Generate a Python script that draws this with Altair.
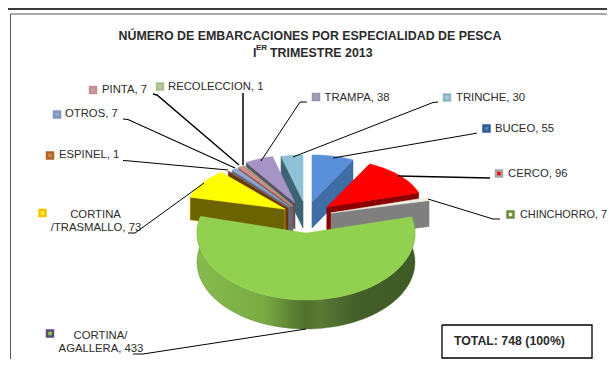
import math
import altair as alt

# ---- data ----
categories = ["BUCEO", "CERCO", "CHINCHORRO", "CORTINA/AGALLERA", "CORTINA/TRASMALLO", "ESPINEL",
              "OTROS", "PINTA", "RECOLECCION", "TRAMPA", "TRINCHE"]
values = [55, 96, 7, 433, 73, 1, 7, 7, 1, 38, 30]
title_line1 = "NÚMERO DE EMBARCACIONES POR ESPECIALIDAD DE PESCA"
title_line2 = "TRIMESTRE 2013"
total_text = "TOTAL: 748 (100%)"

# ---- styling / layout, page pixels ----
FONT = "Liberation Sans"
TXT = "#2b2b2b"
# name: apex x, apex y, rx, ry, depth, top colour, wall colour
slice_style = {
    "BUCEO": (312, 202, 92, 47, 26, "#5a90d8", "#3f6ea6"),
    "TRINCHE": (303, 201, 88, 46, 27, "#8fc2d6", "#3f6373"),
    "TRAMPA": (295, 203, 90, 48, 26, "#a594c4", "#5a5168"),
    "RECOLECCION": (293, 206, 90, 48, 26, "#a3bf80", "#5d6e46"),
    "PINTA": (292, 206, 90, 48, 26, "#cf8f8a", "#8a5a58"),
    "OTROS": (290, 207, 90, 48, 26, "#8fa8d2", "#5d6f90"),
    "ESPINEL": (288, 208, 92, 48, 24, "#8f5a2a", "#663812"),
    "CORTINA/TRASMALLO": (285, 209, 98, 48, 23, "#ffff00", "#6b6200"),
    "CERCO": (327, 207, 96, 48, 26, "#ff0000", "#8b0000"),
    "CHINCHORRO": (331, 213, 101, 52, 26, "#efefe2", "#7f7f7f"),
    "CORTINA/AGALLERA": (306, 233, 109, 67, 29, "#92d050", None),
}
draw_order = ["BUCEO", "TRINCHE", "TRAMPA", "RECOLECCION", "PINTA", "OTROS", "ESPINEL",
              "CORTINA/TRASMALLO", "CERCO", "CHINCHORRO", "CORTINA/AGALLERA"]

total = sum(values)
angles = {}
acc = 0.0
for c, v in zip(categories, values):
    angles[c] = (acc / total * 360, (acc + v) / total * 360)
    acc += v


def arc(c):
    ax, ay, rx, ry, _, _, _ = slice_style[c]
    t0, t1 = angles[c]
    n = max(2, int((t1 - t0) / 2) + 1)
    out = []
    for i in range(n + 1):
        t = math.radians(t0 + (t1 - t0) * i / n)
        out.append((ax + rx * math.sin(t), ay - ry * math.cos(t)))
    return out


def feat(pts, fill, stroke=None):
    ring = [[x - 8, y - 8] for x, y in pts]
    ring.append(ring[0])
    return {"type": "Feature", "properties": {"fill": fill, "stroke": stroke or fill},
            "geometry": {"type": "Polygon", "coordinates": [ring]}}


back = []
for c in draw_order[:-1]:
    ax, ay, rx, ry, d, top, wall = slice_style[c]
    a = arc(c)
    # cut face
    if c in ("BUCEO", "CHINCHORRO", "CERCO"):
        edge = a[-1]
    else:
        edge = a[0]
    stroke = "#d9b200" if c == "CORTINA/TRASMALLO" else None
    back.append(feat([edge, (ax, ay), (ax, ay + d), (edge[0], edge[1] + d)], wall, stroke))
    if c == "CERCO":
        back.append(feat([a[0], (ax, ay), (ax, ay + d), (a[0][0], a[0][1] + d)], wall))
    back.append(feat(a + [(ax, ay)], top))

g = "CORTINA/AGALLERA"
gax, gay, grx, gry, gd, gtop, _ = slice_style[g]
ga = arc(g)
green_wall = [feat(ga + [(x, y + gd) for x, y in reversed(ga)], "#7fb24a")]
green_top = [feat(ga + [(gax, gay)], gtop)]

proj = alt.Projection(type="identity", scale=1, translate=[0, 0])

back_layer = alt.Chart(alt.Data(values=back)).mark_geoshape(strokeWidth=0.6).encode(
    fill=alt.Fill("properties.fill:N", scale=None),
    stroke=alt.Stroke("properties.stroke:N", scale=None),
).project(**proj.to_dict())

wall_layer = alt.Chart(alt.Data(values=green_wall)).mark_geoshape(
    strokeWidth=0.4, stroke="#5f7f3a",
    fill=alt.Gradient(gradient="linear", x1=0, x2=1, y1=0, y2=0, stops=[
        alt.GradientStop(color="#86bb4c", offset=0),
        alt.GradientStop(color="#7aac44", offset=0.3),
        alt.GradientStop(color="#4f6f2c", offset=0.5),
        alt.GradientStop(color="#5a7a34", offset=0.56),
        alt.GradientStop(color="#44602a", offset=0.72),
        alt.GradientStop(color="#3f5a25", offset=1),
    ])).project(**proj.to_dict())

top_layer = alt.Chart(alt.Data(values=green_top)).mark_geoshape(strokeWidth=0.4).encode(
    fill=alt.Fill("properties.fill:N", scale=None),
    stroke=alt.Stroke("properties.stroke:N", scale=None),
).project(**proj.to_dict())

X = alt.Scale(domain=[8, 607], nice=False, zero=False)
Y = alt.Scale(domain=[359, 8], nice=False, zero=False)


def polylines(lines):
    rows = []
    for i, (w, col, pts) in enumerate(lines):
        for j, (x, y) in enumerate(pts):
            rows.append({"id": i, "o": j, "x": x, "y": y, "w": w, "c": col})
    return rows


line_rows = polylines([
    (2.0, "#3a3a3a", [(8, 9), (607, 9)]),
    (1.0, "#555555", [(10.5, 359), (10.5, 14), (607, 14)]),
    (1.4, "#000000", [(153, 94), (157, 95), (239, 165)]),
    (1.5, "#000000", [(243, 93), (243, 165)]),
    (1.1, "#000000", [(123, 119), (128, 119.5), (235, 168)]),
    (1.1, "#000000", [(123, 160.5), (130, 161), (228, 170)]),
    (1.0, "#000000", [(307, 102), (300, 102), (261, 161)]),
    (1.0, "#000000", [(438, 102), (433, 102.5), (293, 157)]),
    (1.0, "#000000", [(477, 133), (472, 134), (333, 158)]),
    (1.4, "#000000", [(490, 178), (398, 176)]),
    (1.0, "#000000", [(500, 219), (493, 219), (428, 199)]),
    (1.0, "#000000", [(128, 233), (135, 233), (204, 183)]),
    (1.0, "#000000", [(133, 354), (143, 354), (306, 329)]),
    (1.3, "#000000", [(442, 325), (592, 325), (592, 358), (442, 358), (442, 325)]),
])
lines_layer = alt.Chart(alt.Data(values=line_rows)).mark_line(interpolate="linear").encode(
    x=alt.X("x:Q", scale=X, axis=None),
    y=alt.Y("y:Q", scale=Y, axis=None),
    detail="id:N",
    order="o:Q",
    stroke=alt.Stroke("c:N", scale=None),
    strokeWidth=alt.StrokeWidth("w:Q", scale=None),
)

key_rows = [
    {"x": 93, "y": 90, "o": "#c49090", "i": "#c9a0a0"},
    {"x": 160, "y": 86.5, "o": "#a9c08a", "i": "#b9cc9c"},
    {"x": 57, "y": 114.5, "o": "#8096c0", "i": "#97a9cc"},
    {"x": 50, "y": 155.5, "o": "#b0642a", "i": "#d98a40"},
    {"x": 42.5, "y": 213, "o": "#ffc000", "i": "#ffff40"},
    {"x": 50, "y": 333.5, "o": "#5f497a", "i": "#92d050"},
    {"x": 316, "y": 97, "o": "#a094b5", "i": "#ab9fc0"},
    {"x": 447, "y": 97.5, "o": "#8fb5c2", "i": "#a8d0dc"},
    {"x": 486.5, "y": 128.5, "o": "#2f5b94", "i": "#4f81bd"},
    {"x": 499, "y": 173.5, "o": "#a6a6a6", "i": "#ff0000"},
    {"x": 510.5, "y": 214.5, "o": "#6f8a3a", "i": "#eef0e0"},
]
keys_outer = alt.Chart(alt.Data(values=key_rows)).mark_square(size=72, opacity=1).encode(
    x=alt.X("x:Q", scale=X, axis=None), y=alt.Y("y:Q", scale=Y, axis=None),
    color=alt.Color("o:N", scale=None))
keys_inner = alt.Chart(alt.Data(values=key_rows)).mark_square(size=12, opacity=1).encode(
    x=alt.X("x:Q", scale=X, axis=None), y=alt.Y("y:Q", scale=Y, axis=None),
    color=alt.Color("i:N", scale=None))

label_rows = [
    {"x": 102, "y": 90, "t": "PINTA, 7", "a": "left"},
    {"x": 168, "y": 87, "t": "RECOLECCION, 1", "a": "left"},
    {"x": 65, "y": 114, "t": "OTROS, 7", "a": "left"},
    {"x": 59, "y": 155, "t": "ESPINEL, 1", "a": "left"},
    {"x": 324.5, "y": 98, "t": "TRAMPA, 38", "a": "left"},
    {"x": 456, "y": 98, "t": "TRINCHE, 30", "a": "left"},
    {"x": 495, "y": 129, "t": "BUCEO, 55", "a": "left"},
    {"x": 508, "y": 174, "t": "CERCO, 96", "a": "left"},
    {"x": 95.5, "y": 215, "t": "CORTINA", "a": "center"},
    {"x": 96, "y": 228, "t": "/TRASMALLO, 73", "a": "center"},
    {"x": 100.5, "y": 336, "t": "CORTINA/", "a": "center"},
    {"x": 101, "y": 349, "t": "AGALLERA, 433", "a": "center"},
]


def text_layer(rows, size, bold=False, align="left"):
    return alt.Chart(alt.Data(values=rows)).mark_text(
        font=FONT, fontSize=size, fontWeight="bold" if bold else "normal", color=TXT,
        align=align, baseline="middle").encode(
        x=alt.X("x:Q", scale=X, axis=None), y=alt.Y("y:Q", scale=Y, axis=None), text="t:N")


left_labels = text_layer([r for r in label_rows if r["a"] == "left"], 11.3)
center_labels = text_layer([r for r in label_rows if r["a"] == "center"], 11.3, align="center")
chin_label = text_layer([{"x": 520, "y": 215, "t": "CHINCHORRO, 7"}], 10.9)
title_a = text_layer([{"x": 310, "y": 36, "t": title_line1}], 12.4, True, "center")
title_b = text_layer([{"x": 270, "y": 53, "t": title_line2}], 12.4, True, "left")
title_i = text_layer([{"x": 253, "y": 53, "t": "I"}], 12.4, True, "left")
title_er = text_layer([{"x": 256, "y": 48, "t": "ER"}], 8, True, "left")
total_lbl = text_layer([{"x": 454, "y": 340.5, "t": total_text}], 12.3, True, "left")

chart = alt.layer(
    back_layer, wall_layer, top_layer, lines_layer, keys_outer, keys_inner,
    left_labels, center_labels, chin_label, title_a, title_b, title_i, title_er, total_lbl,
).properties(
    width=599, height=351, background="white",
    padding={"left": 0, "right": 0, "top": 0, "bottom": 0},
    autosize=alt.AutoSizeParams(type="none"),
).configure_view(stroke=None)

chart.save("out.html", embed_options={"renderer": "svg", "actions": False})
